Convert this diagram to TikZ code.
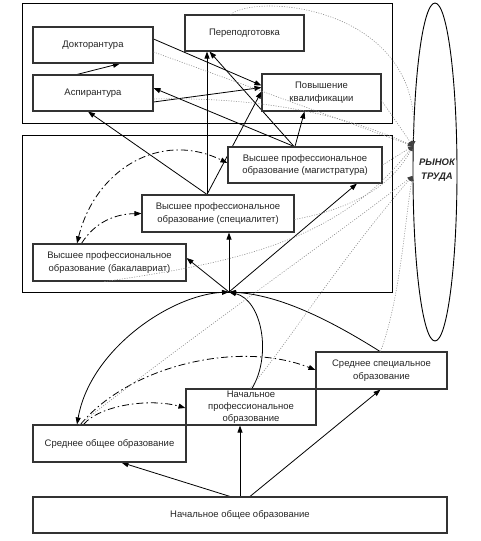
\documentclass[tikz,border=0pt]{standalone}
\usepackage{fontspec}
\setmainfont{Liberation Sans}
\usetikzlibrary{arrows.meta,calc,shapes.geometric}
\pgfdeclarelayer{bg}
\pgfsetlayers{bg,main}
\begin{document}
\begin{tikzpicture}[x=1pt,y=-1pt,
  box/.style={draw=black!80,line width=1.1pt,fill=white,align=center,font=\fontsize{9.5}{12.5}\selectfont,inner sep=1pt,text=black!85},
  frame/.style={draw=black,line width=0.9pt},
  arr/.style={draw=black,line width=0.8pt,-{Triangle[length=7pt,width=5pt]}},
  dd/.style={draw=black,line width=0.8pt,dash pattern=on 7pt off 3pt on 1.5pt off 3pt,-{Triangle[length=7pt,width=5pt]}},
  dot/.style={draw=black!45,line width=0.6pt,dash pattern=on 1pt off 1.5pt,-{Triangle[length=5pt,width=4pt,color=black!75]}}]
\useasboundingbox (0,0) rectangle (481,541);
% frames
\draw[frame] (22,3) rectangle (392,123);
\draw[frame] (22,135) rectangle (392,292);
% boxes
\node[box,minimum width=120,minimum height=36] (dok) at (93,45) {Докторантура};
\node[box,minimum width=120,minimum height=36] (asp) at (93,93) {Аспирантура};
\node[box,minimum width=119,minimum height=36] (pere) at (244.5,33) {Переподготовка};
\node[box,minimum width=119,minimum height=37] (pov) at (321.5,92.5) {Повышение\\квалификации};
\node[box,minimum width=154,minimum height=36] (mag) at (305,165) {Высшее профессиональное\\образование (магистратура)};
\node[box,minimum width=152,minimum height=37] (spec) at (218,213.5) {Высшее профессиональное\\образование (специалитет)};
\node[box,minimum width=153,minimum height=37] (bak) at (109.5,262.5) {Высшее профессиональное\\образование (бакалавриат)};
\node[box,minimum width=131,minimum height=37] (sso) at (381.5,370.5) {Среднее специальное\\образование};
\node[box,minimum width=130,minimum height=36,font=\fontsize{9.5}{12}\selectfont] (npo) at (251,407) {Начальное\\профессиональное\\образование};
\node[box,minimum width=153,minimum height=37] (soo) at (109.5,443.5) {Среднее общее образование};
\node[box,minimum width=414,minimum height=36] (noo) at (240,515) {Начальное общее образование};
\node[draw,ellipse,line width=0.9pt,minimum width=44,minimum height=338,inner sep=0] (rt) at (435,172) {};
\node[font=\fontsize{9.5}{13.5}\selectfont\bfseries\itshape,align=center,inner sep=0,text=black!85] (rtt) at (437,170) {РЫНОК\\ТРУДА};
\coordinate (conv) at (229,292);
\coordinate (mt) at ($(mag.north)+(-11,0)$);
\coordinate (st) at ($(spec.north)+(-11,0)$);
\coordinate (e1) at (413,146);
\coordinate (e2) at (412.5,176);
\begin{pgfonlayer}{bg}
\draw[arr] ($(asp.north)+(-16,0)$) -- ($(dok.south)+(27,0)$);
\draw[arr] ($(dok.east)+(0,-6)$) -- ($(pov.west)+(0,-7)$);
\draw[arr] ($(asp.east)+(0,9)$) -- ($(pov.west)+(0,-5)$);
\draw[arr] (mt) -- ($(asp.east)+(0,-5)$);
\draw[arr] (mt) -- ($(pere.south)+(-35,0)$);
\draw[arr] (st) -- (st |- pere.south);
\draw[arr] (st) -- ($(pov.west)+(0,-1)$);
\draw[arr] (st) -- ($(asp.south)+(-5,0)$);
\draw[arr] ($(mag.north)+(-10,0)$) -- ($(pov.south)+(-17,0)$);
\draw[arr] (conv) -- ($(mag.south)+(52,0)$);
\draw[arr] (conv) -- (conv |- spec.south);
\draw[arr] (conv) -- ($(bak.east)+(0,-4.5)$);
\draw[arr,{Triangle[length=7pt,width=5pt]}-{Triangle[length=7pt,width=5pt]}] ($(soo.north)+(-32.5,0)$) .. controls (90,350) and (170,295) .. (conv);
\draw[arr] ($(npo.north)+(1,0)$) .. controls (272,355) and (262,300) .. (conv);
\draw[arr] ($(sso.north)+(-1.5,0)$) .. controls (330,320) and (280,295) .. (conv);
\draw[arr] ($(noo.north)+(-10,0)$) -- ($(soo.south)+(12,0)$);
\draw[arr] ($(noo.north)+(0,0)$) -- (noo.north |- npo.south);
\draw[arr] ($(noo.north)+(10,0)$) -- ($(sso.south)+(-1,0)$);
\draw[dd,{Triangle[length=7pt,width=5pt]}-{Triangle[length=7pt,width=5pt]}] ($(bak.north)+(-32.5,0)$) .. controls (95,170) and (160,130) .. ($(mag.west)+(0,-2)$);
\draw[dd] ($(bak.north)+(-28,0)$) .. controls (95,222) and (115,214) .. (spec.west);
\draw[dd] ($(soo.north)+(-26,0)$) .. controls (100,405) and (150,398) .. ($(npo.west)+(0,1)$);
\draw[dd] ($(soo.north)+(-29,0)$) .. controls (130,365) and (240,340) .. ($(sso.west)+(0,-0.5)$);
\end{pgfonlayer}
\draw[dot] ($(pere.north)+(-14,0)$) .. controls (260,-8) and (425,8) .. (e1);
\draw[dot] ($(dok.east)+(0,7)$) -- (e1);
\draw[dot] ($(asp.east)+(0,6)$) .. controls (240,97) and (330,108) .. (e1);
\draw[dot] ($(pov.east)+(0,8)$) -- (e1);
\draw[dot] (mag.east) -- (e1);
\draw[dot] ($(spec.east)+(0,6)$) .. controls (345,210) and (390,190) .. (e1);
\draw[dot] ($(bak.south)+(-5,0)$) .. controls (240,262) and (340,240) .. (e1);
\draw[dot] ($(soo.north)+(-30,0)$) .. controls (200,330) and (330,240) .. (e2);
\draw[dot] ($(npo.north)+(-1,0)$) .. controls (290,340) and (340,260) .. (e2);
\draw[dot] ($(sso.north)+(-1,0)$) .. controls (400,300) and (405,220) .. (e2);
\end{tikzpicture}
\end{document}
